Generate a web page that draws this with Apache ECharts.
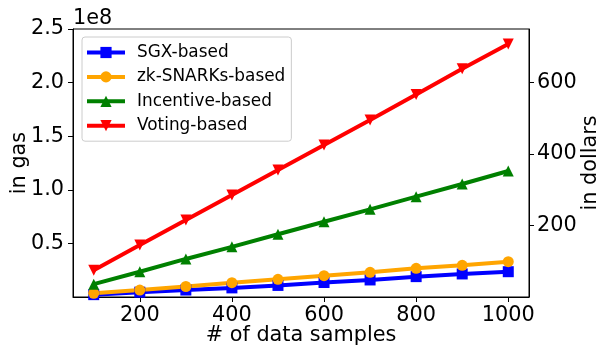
<!DOCTYPE html>
<html>
<head>
<meta charset="utf-8">
<script src="https://cdn.jsdelivr.net/npm/echarts@6/dist/echarts.min.js"></script>
<style>html,body{margin:0;padding:0;background:#fff}#c{width:600px;height:348px}</style>
</head>
<body>
<div id="c"></div>
<script>
const samples = [100, 200, 300, 400, 500, 600, 700, 800, 900, 1000];
const sgxGas = [2.2e6, 4.5e6, 6.5e6, 8.5e6, 10.8e6, 13.5e6, 15.9e6, 19.0e6, 21.5e6, 23.6e6];
const zkGas = [3.5e6, 6.5e6, 9.8e6, 13.4e6, 16.5e6, 19.9e6, 23.0e6, 26.8e6, 29.6e6, 32.9e6];
const incentiveGas = [12.0e6, 23.6e6, 35.5e6, 46.8e6, 58.5e6, 70.2e6, 81.8e6, 93.6e6, 105.4e6, 117.5e6];
const votingGas = [25.0e6, 48.5e6, 71.8e6, 95.1e6, 118.5e6, 141.8e6, 165.1e6, 189.0e6, 213.0e6, 236.0e6];
const xTicks = [200, 400, 600, 800, 1000];
const gasTicks = [0.5e8, 1.0e8, 1.5e8, 2.0e8, 2.5e8];
const dollarTicks = [200, 400, 600];

const FONT = 'DejaVu Sans';
const TICK = 20.8;
const pairs = arr => samples.map((x, i) => [x, arr[i]]);
const chart = echarts.init(document.getElementById('c'), null, {renderer: 'canvas'});
const mk = (name, data, color, symbol, rot) => ({
  name, type: 'line', data: pairs(data), yAxisIndex: 0,
  symbol, symbolSize: 11, symbolRotate: rot || 0,
  lineStyle: {color, width: 4}, itemStyle: {color},
  showSymbol: true, animation: false, emphasis: {disabled: true}
});
chart.setOption({
  animation: false,
  textStyle: {fontFamily: FONT},
  grid: {left: 73, right: 71, top: 29, bottom: 51, show: true, borderColor: '#000', borderWidth: 1,
    containLabel: false, outerBoundsMode: 'none'},
  legend: {
    orient: 'vertical', left: 82, top: 37,
    padding: [7, 6, 7, 3], itemWidth: 38, itemHeight: 14, itemGap: 7.4,
    borderColor: '#cccccc', borderWidth: 1, borderRadius: 3, backgroundColor: 'rgba(255,255,255,0.8)',
    lineStyle: {width: 4},
    textStyle: {fontFamily: FONT, fontSize: 16.9, color: '#000', padding: [0, 0, 0, 7]},
    data: ['SGX-based', 'zk-SNARKs-based', 'Incentive-based', 'Voting-based']
  },
  graphic: [{type: 'text', left: 73, top: 8, style: {text: '1e8', font: '20.8px "DejaVu Sans"', fill: '#000'}}],
  xAxis: {
    type: 'value', min: 55, max: 1045,
    name: '# of data samples', nameLocation: 'middle', nameGap: 28, nameMoveOverlap: false,
    nameTextStyle: {fontFamily: FONT, fontSize: TICK, color: '#000'},
    axisLine: {show: true, lineStyle: {color: '#000', width: 1}},
    axisTick: {show: true, length: 5, lineStyle: {color: '#000'}, customValues: xTicks},
    axisLabel: {fontFamily: FONT, fontSize: TICK, color: '#000', margin: 8, customValues: xTicks,
      formatter: v => String(v)},
    splitLine: {show: false}
  },
  yAxis: [{
    type: 'value', min: 0, max: 2.5e8, position: 'left',
    name: 'in gas', nameLocation: 'middle', nameGap: 43, nameRotate: 90, nameMoveOverlap: false,
    nameTextStyle: {fontFamily: FONT, fontSize: TICK, color: '#000'},
    axisLine: {show: true, lineStyle: {color: '#000', width: 1}},
    axisTick: {show: true, length: 5, lineStyle: {color: '#000'}, customValues: gasTicks},
    axisLabel: {fontFamily: FONT, fontSize: TICK, color: '#000', margin: 9, customValues: gasTicks,
      formatter: v => (v / 1e8).toFixed(1)},
    splitLine: {show: false}
  }, {
    type: 'value', min: 0, max: 750, position: 'right',
    name: 'in dollars', nameLocation: 'middle', nameGap: 51, nameRotate: 90, nameMoveOverlap: false,
    nameTextStyle: {fontFamily: FONT, fontSize: TICK, color: '#000'},
    axisLine: {show: true, lineStyle: {color: '#000', width: 1}},
    axisTick: {show: true, length: 5, lineStyle: {color: '#000'}, customValues: dollarTicks},
    axisLabel: {fontFamily: FONT, fontSize: TICK, color: '#000', margin: 8, customValues: dollarTicks,
      formatter: v => String(v)},
    splitLine: {show: false}
  }],
  series: [
    mk('SGX-based', sgxGas, '#0000ff', 'rect'),
    mk('zk-SNARKs-based', zkGas, '#ffa500', 'circle'),
    mk('Incentive-based', incentiveGas, '#008000', 'triangle'),
    mk('Voting-based', votingGas, '#ff0000', 'triangle', 180)
  ]
});
</script>
</body>
</html>
